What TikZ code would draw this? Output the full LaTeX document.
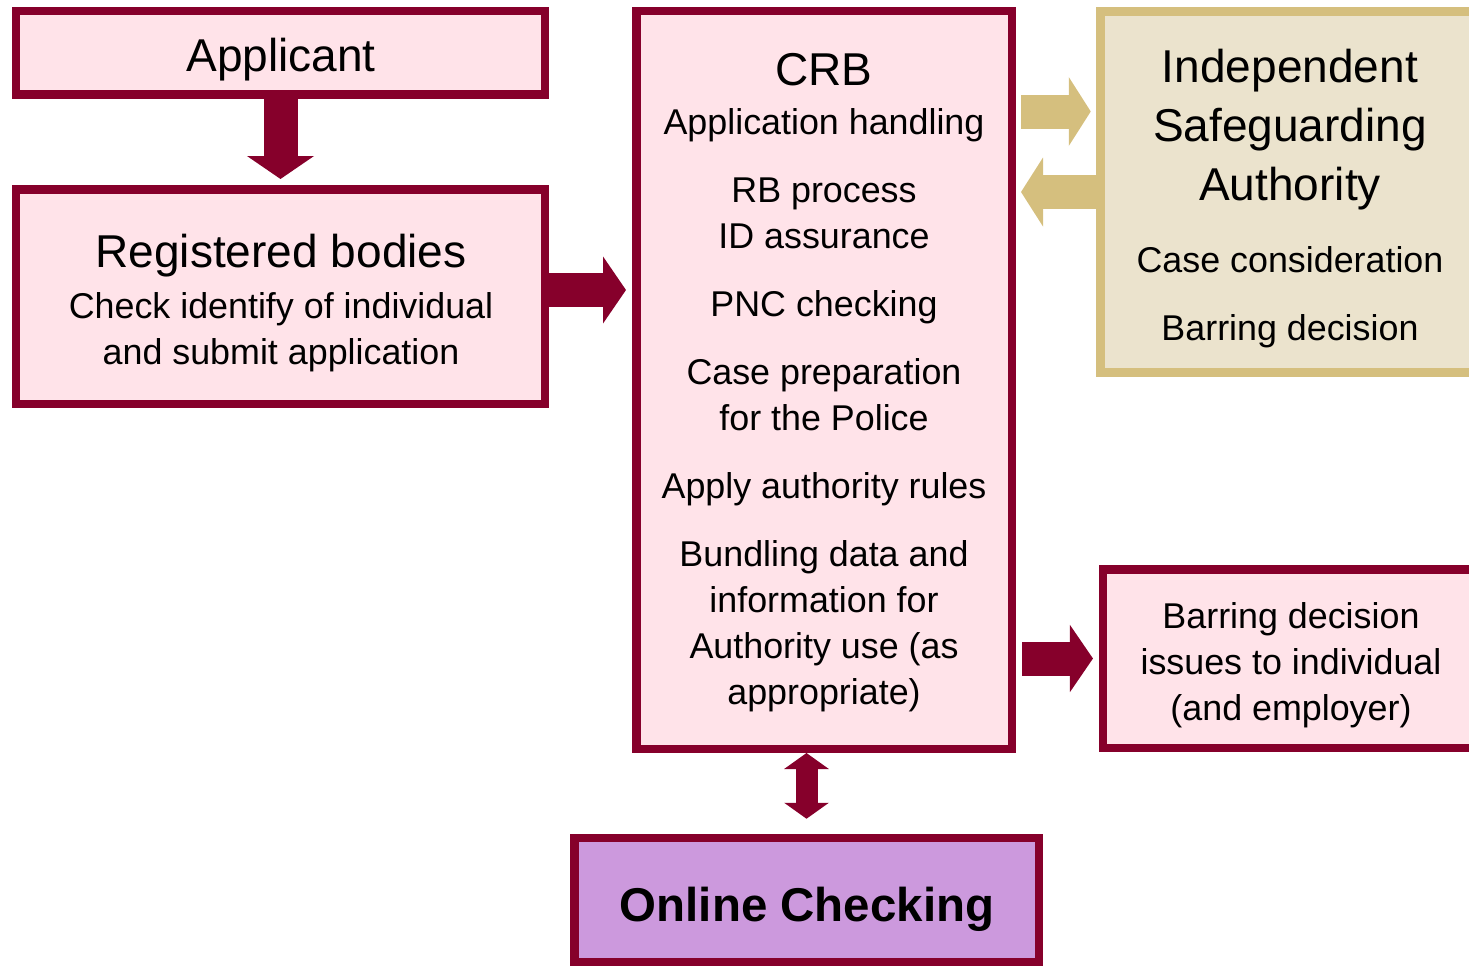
\documentclass[tikz,border=0pt]{standalone}
\usepackage{fontspec}
\setmainfont{Liberation Sans}
\usetikzlibrary{arrows.meta}
\definecolor{CRBRed}{HTML}{86002B}
\definecolor{CRBPink}{HTML}{FFE3E9}
\definecolor{ISATan}{HTML}{D5BF7E}
\definecolor{ISACream}{HTML}{EBE3CD}
\definecolor{OCPurple}{HTML}{CC99DD}

\begin{document}
\begin{tikzpicture}[x=1cm,y=1cm,
  box/.style={draw=CRBRed,fill=CRBPink,line width=0.085cm,inner sep=0pt},
  isabox/.style={draw=ISATan,fill=ISACream,line width=0.085cm,inner sep=0pt},
  head/.style={inner sep=0pt,align=center,font=\fontsize{13.1pt}{16.8pt}\selectfont},
  body/.style={inner sep=0pt,align=center,font=\fontsize{10.2pt}{13.1pt}\selectfont},
  redarrow/.style={draw=CRBRed,line width=0.34cm,-{Triangle[width=0.66cm,length=0.23cm]}},
  tanarrow/.style={draw=ISATan,line width=0.34cm,-{Triangle[width=0.68cm,length=0.22cm]}}]
\path[use as bounding box] (0,0) rectangle (14.69,9.66);
% boxes (the two on the right run past the page edge)
\node[box,minimum width=5.285cm,minimum height=0.835cm] (app) at (2.805,9.13) {};
\node[box,minimum width=5.285cm,minimum height=2.145cm] (rb) at (2.805,6.695) {};
\node[box,minimum width=3.755cm,minimum height=7.375cm] (crb) at (8.24,5.86) {};
\node[isabox,minimum width=3.795cm,minimum height=3.61cm] (isa) at (12.9025,7.74) {};
\node[box,minimum width=3.7675cm,minimum height=1.785cm] (bar) at (12.916,3.075) {};
\node[box,fill=OCPurple,minimum width=4.645cm,minimum height=1.24cm] (oc) at (8.065,0.66) {};
% texts
\node[head] (appT) at (2.81,9.06) {Applicant};
\node[head] (rbT) at (2.81,7.10) {Registered bodies};
\node[body] (rbB) at (2.81,6.34) {Check identify of individual\\and submit application};
\node[head] (crbT) at (8.24,8.965) {CRB};
\node[body] (crbB) at (8.24,5.56) {Application handling\\[6.26pt]
  RB process\\ID assurance\\[6.26pt]
  PNC checking\\[6.26pt]
  Case preparation\\for the Police\\[6.26pt]
  Apply authority rules\\[6.26pt]
  Bundling data and\\information for\\Authority use (as\\appropriate)};
\node[head] (isaT) at (12.90,8.36) {Independent\\Safeguarding\\Authority};
\node[body] (isaB) at (12.90,6.69) {Case consideration\\[6.26pt]Barring decision};
\node[body] (barT) at (12.91,3.01) {Barring decision\\issues to individual\\(and employer)};
\node[inner sep=0pt,font=\fontsize{13.5pt}{16pt}\selectfont\bfseries] (ocT) at (8.07,0.565) {Online Checking};
% arrows
\draw[redarrow,shorten >=0.06cm] (app.south) -- (rb.north);
\draw[redarrow,shorten >=0.06cm] ([yshift=0.065cm]rb.east) -- ([yshift=0.065cm]rb.east -| crb.west);
\draw[tanarrow,shorten <=0.05cm,shorten >=0.055cm] ([yshift=0.805cm]isa.west -| crb.east) -- ([yshift=0.805cm]isa.west);
\draw[tanarrow,shorten >=0.05cm] (isa.west) -- (isa.west -| crb.east);
\draw[redarrow,shorten <=0.06cm,shorten >=0.06cm] (bar.west -| crb.east) -- (bar.west);
\draw[draw=CRBRed,line width=0.22cm,{Triangle[width=0.44cm,length=0.16cm]}-{Triangle[width=0.44cm,length=0.16cm]},
  shorten <=0.15cm] (oc.north) -- (oc.north |- crb.south);
\end{tikzpicture}
\end{document}
